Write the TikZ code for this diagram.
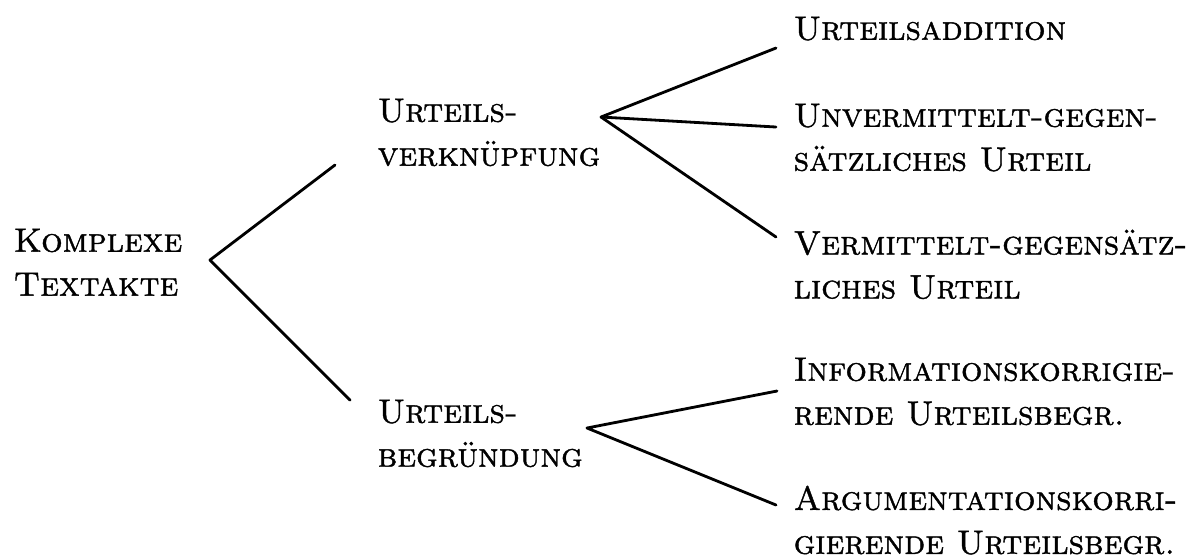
\documentclass[tikz,border=0pt]{standalone}
\usepackage{fontspec}
\setmainfont{lmroman10-regular.otf}[
  SmallCapsFont=lmromancaps10-regular.otf,
  SmallCapsFeatures={FakeBold=1.2}]
\usepackage{tikz}
\usetikzlibrary{positioning}

\tikzset{
  term/.style={anchor=north west,inner sep=0pt,align=left,
    font=\fontsize{9.6}{12.5}\selectfont\scshape},
  branch/.style={line width=0.8pt,line cap=round,line join=round}
}

\begin{document}
\begin{tikzpicture}
  \useasboundingbox (0,0) rectangle (11.93,-5.56);
  % labels, one column per level
  \node[term] (root) at (0.13,-2.28) {Komplexe\\Textakte};
  \node[term] (verk) at (3.77,-0.98) {Urteils-\\verknüpfung};
  \node[term] (begr) at (3.77,-3.99) {Urteils-\\begründung};
  \node[term] (add)  at (7.93,-0.16) {Urteilsaddition};
  \node[term] (unv)  at (7.93,-1.03) {Unvermittelt-gegen-\\sätzliches Urteil};
  \node[term] (verm) at (7.93,-2.29) {Vermittelt-gegensätz-\\liches Urteil};
  \node[term] (inf)  at (7.93,-3.57) {Informationskorrigie-\\rende Urteilsbegr.};
  \node[term] (arg)  at (7.93,-4.85) {Argumentationskorri-\\gierende Urteilsbegr.};
  % fork points
  \coordinate (fr) at (2.10,-2.60);
  \coordinate (fv) at (6.01,-1.17);
  \coordinate (fb) at (5.87,-4.28);
  \draw[branch] ([shift={(-0.42,-0.67)}]verk.north west) -- (fr)
    -- ([shift={(-0.27,-0.01)}]begr.north west);
  \draw[branch] ([shift={(-0.17,-0.32)}]add.north west) -- (fv)
    -- ([shift={(-0.17,-0.24)}]unv.north west);
  \draw[branch] (fv) -- ([shift={(-0.17,-0.08)}]verm.north west);
  \draw[branch] ([shift={(-0.16,-0.34)}]inf.north west) -- (fb)
    -- ([shift={(-0.17,-0.20)}]arg.north west);
\end{tikzpicture}
\end{document}
